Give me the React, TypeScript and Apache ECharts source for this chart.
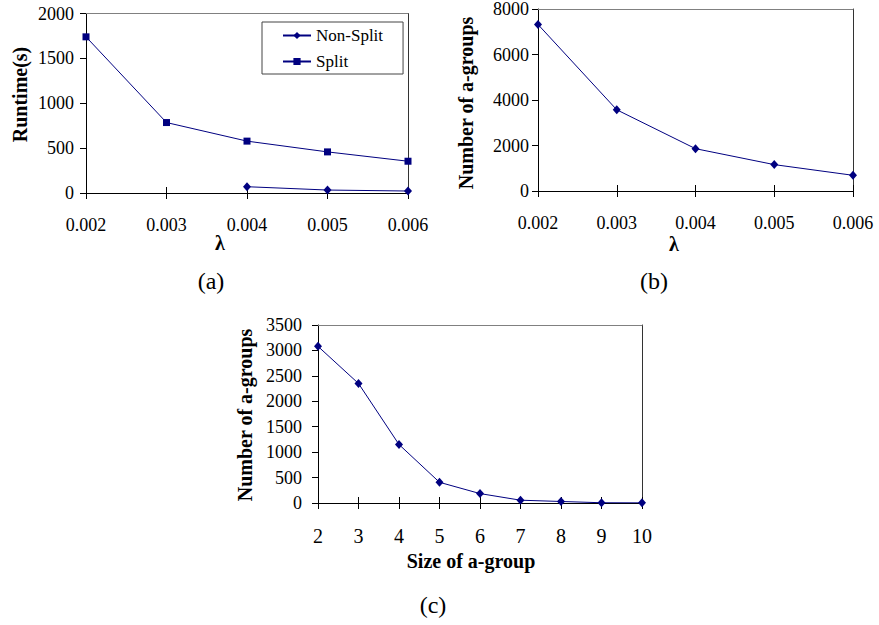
import React, { useEffect, useRef } from "react";
import * as echarts from "echarts";

// ---- data ----
const lambdaCats = ["0.002", "0.003", "0.004", "0.005", "0.006"];
const runtimeNonSplit = [null, null, 70, 33, 22];
const runtimeSplit = [1740, 785, 578, 458, 354];
const groupsByLambda = [7320, 3570, 1860, 1160, 690];
const sizeCats = ["2", "3", "4", "5", "6", "7", "8", "9", "10"];
const groupsBySize = [3080, 2350, 1150, 407, 185, 55, 30, 5, 3];

const yRangeA = { min: 0, max: 2000, interval: 500 };
const yRangeB = { min: 0, max: 8000, interval: 2000 };
const yRangeC = { min: 0, max: 3500, interval: 500 };

const FONT = "'Liberation Serif', 'Times New Roman', serif";
const NAVY = "#000080";

function axesFor(g: number, cats: string[], yr: any, xFont: number, xMargin: number, yMargin: number) {
  const base = { gridIndex: g, type: "category", data: cats, boundaryGap: false };
  const xAxes = [
    {
      ...base,
      position: "bottom",
      axisLine: { show: true, onZero: false, lineStyle: { color: "#000", width: 1 } },
      axisTick: { show: true, length: 6, lineStyle: { color: "#000" } },
      axisLabel: { margin: xMargin, fontSize: xFont, fontFamily: FONT, color: "#000" },
      splitLine: { show: false },
    },
    {
      ...base,
      position: "bottom",
      axisLine: { show: false, onZero: false },
      axisTick: { show: true, inside: true, length: 6, lineStyle: { color: "#000" } },
      axisLabel: { show: false },
      splitLine: { show: false },
    },
    {
      ...base,
      position: "top",
      axisLine: { show: true, onZero: false, lineStyle: { color: "#808080", width: 1 } },
      axisTick: { show: false },
      axisLabel: { show: false },
      splitLine: { show: false },
    },
  ];
  const yAxes = [
    {
      gridIndex: g,
      type: "value",
      position: "left",
      ...yr,
      axisLine: { show: true, onZero: false, lineStyle: { color: "#000", width: 1 } },
      axisTick: { show: true, length: 6, lineStyle: { color: "#000" } },
      axisLabel: {
        margin: yMargin,
        fontSize: 18,
        fontFamily: FONT,
        color: "#000",
        formatter: (v: number) => String(v),
      },
      splitLine: { show: false },
    },
    {
      gridIndex: g,
      type: "value",
      position: "right",
      ...yr,
      axisLine: { show: true, onZero: false, lineStyle: { color: "#333", width: 1 } },
      axisTick: { show: false },
      axisLabel: { show: false },
      splitLine: { show: false },
    },
  ];
  return { xAxes, yAxes };
}

function lineSeries(name: string, g: number, data: any[], symbol: string, size: any) {
  return {
    name,
    type: "line",
    xAxisIndex: g * 3,
    yAxisIndex: g * 2,
    data,
    symbol,
    symbolSize: size,
    showSymbol: true,
    connectNulls: false,
    lineStyle: { color: NAVY, width: 1 },
    itemStyle: { color: NAVY },
    z: 3,
  };
}

function text(t: string, x: number, y: number, size: number, bold: boolean, rotate = false) {
  return {
    type: "text",
    x,
    y,
    rotation: rotate ? Math.PI / 2 : 0,
    style: {
      text: t,
      fontSize: size,
      fontFamily: FONT,
      fontWeight: bold ? "bold" : "normal",
      fill: "#000",
      align: "center",
      verticalAlign: "middle",
    },
  };
}

export default function App() {
  const ref = useRef<HTMLDivElement>(null);
  useEffect(() => {
    if (!ref.current) return;
    const chart = echarts.init(ref.current, null, { renderer: "svg" });
    const a = axesFor(0, lambdaCats, yRangeA, 18, 23, 12);
    const b = axesFor(1, lambdaCats, yRangeB, 18, 23, 9);
    const c = axesFor(2, sizeCats, yRangeC, 20, 23, 16);
    chart.setOption({
      animation: false,
      backgroundColor: "#fff",
      textStyle: { fontFamily: FONT },
      grid: [
        { left: 86, top: 13.5, width: 322, height: 179.5, containLabel: false },
        { left: 538, top: 9, width: 315, height: 182, containLabel: false },
        { left: 318, top: 325, width: 324, height: 178, containLabel: false },
      ],
      xAxis: [...a.xAxes, ...b.xAxes, ...c.xAxes],
      yAxis: [...a.yAxes, ...b.yAxes, ...c.yAxes],
      legend: {
        data: ["Non-Split", "Split"],
        orient: "vertical",
        left: 262,
        top: 22,
        itemWidth: 28,
        itemHeight: 9,
        itemGap: 9,
        padding: [5, 20, 4, 20],
        borderColor: "#444",
        borderWidth: 1,
        textStyle: { fontSize: 17, fontFamily: FONT, color: "#000" },
      },
      series: [
        lineSeries("Non-Split", 0, runtimeNonSplit, "diamond", [8, 9]),
        lineSeries("Split", 0, runtimeSplit, "rect", 7),
        lineSeries("groupsByLambda", 1, groupsByLambda, "diamond", [8, 9]),
        lineSeries("groupsBySize", 2, groupsBySize, "diamond", [8, 9]),
      ],
      graphic: [
        text("Runtime(s)", 20, 94.5, 20, true, true),
        text("λ", 220, 243, 20, true),
        text("(a)", 211, 281, 24, false),
        text("Number of a-groups", 466, 103, 20, true, true),
        text("λ", 674, 244, 20, true),
        text("(b)", 654, 281, 24, false),
        text("Number of a-groups", 245, 415, 20, true, true),
        text("Size of a-group", 471, 561, 20, true),
        text("(c)", 433, 605, 24, false),
      ],
    });
    return () => chart.dispose();
  }, []);
  return (
    <div
      ref={ref}
      style={{ position: "absolute", left: 0, top: 0, width: 879, height: 625 }}
    />
  );
}
